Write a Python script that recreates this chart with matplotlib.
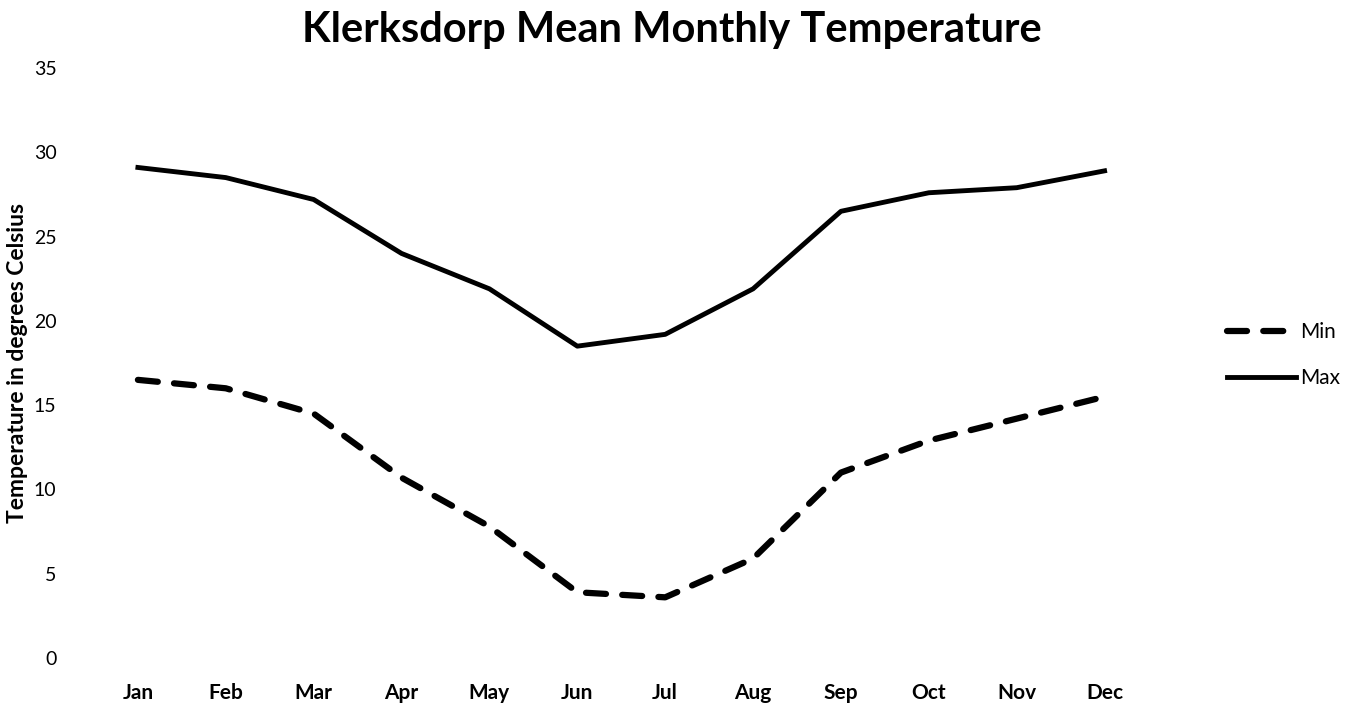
import matplotlib
matplotlib.use('Agg')
import matplotlib.pyplot as plt

months = ['Jan', 'Feb', 'Mar', 'Apr', 'May', 'Jun', 'Jul', 'Aug', 'Sep', 'Oct', 'Nov', 'Dec']
t_min = [16.5, 16.0, 14.5, 10.7, 7.8, 3.9, 3.6, 5.9, 11.0, 12.9, 14.2, 15.5]
t_max = [29.1, 28.5, 27.2, 24.0, 21.9, 18.5, 19.2, 21.9, 26.5, 27.6, 27.9, 28.9]
y_ticks = [0, 5, 10, 15, 20, 25, 30, 35]

plt.rcParams['font.family'] = ['Lato', 'DejaVu Sans']

fig = plt.figure(figsize=(13.52, 7.07), dpi=100)
ax = fig.add_axes([0.0695, 0.0693, 0.780, 0.8345])

x = list(range(len(months)))
ax.plot(x, t_min, color='black', lw=4.5, linestyle=(0, (3.2, 2.6)),
        dash_capstyle='round', solid_joinstyle='round', label='Min')
ax.plot(x, t_max, color='black', lw=3.5, solid_joinstyle='round', label='Max')

ax.set_xlim(-0.5, len(months) - 0.5)
ax.set_ylim(0, 35)
ax.set_yticks(y_ticks)
ax.set_xticks(x)
ax.set_xticklabels(months, fontsize=15, fontweight='bold')
ax.tick_params(axis='y', labelsize=14, length=0, pad=27)
ax.tick_params(axis='x', length=0, pad=18)
for s in ax.spines.values():
    s.set_visible(False)

ax.set_ylabel('Temperature in degrees Celsius', fontsize=16.5, fontweight='bold')
ax.yaxis.set_label_coords(-0.0625, 0.5)
fig.text(0.497, 0.957, 'Klerksdorp Mean Monthly Temperature', ha='center', va='center',
         fontsize=30, fontweight='bold')

fig.legend(loc='center left', bbox_to_anchor=(0.894, 0.498), frameon=False,
           fontsize=15, handlelength=3.3, handletextpad=0.2, labelspacing=1.25)

fig.savefig('out.png', dpi=100, facecolor='white')
